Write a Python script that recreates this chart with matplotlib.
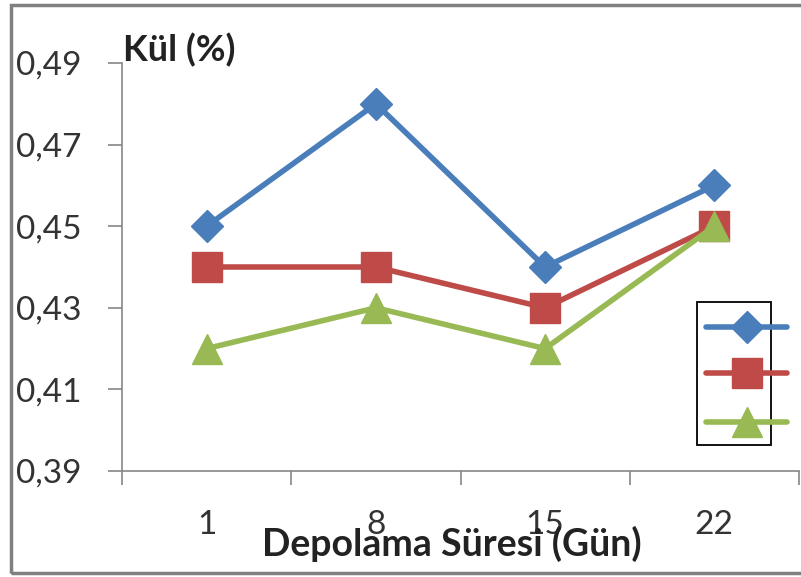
import numpy as np
import matplotlib
matplotlib.use("Agg")
import matplotlib.pyplot as plt
from matplotlib.lines import Line2D
from matplotlib.patches import Rectangle
from matplotlib.ticker import FixedLocator, FuncFormatter

# data
days = ["1", "8", "15", "22"]
blue_vals = [0.45, 0.48, 0.44, 0.46]
red_vals = [0.44, 0.44, 0.43, 0.45]
green_vals = [0.42, 0.43, 0.42, 0.45]
y_ticks = [0.39, 0.41, 0.43, 0.45, 0.47, 0.49]

blue = "#4A7EBB"
red = "#BE4B48"
green = "#98B954"
axis_gray = "#868686"
text_col = "#333333"

plt.rcParams["font.family"] = ["Lato", "DejaVu Sans"]

fig = plt.figure(figsize=(8.01, 5.77), dpi=100)
ax = fig.add_axes([122 / 801, 1 - 471 / 577, 677 / 801, 408 / 577])

x = np.arange(len(days))
ax.plot(x, blue_vals, color=blue, lw=4, marker="D", ms=16, mec=blue, zorder=3)
ax.plot(x, red_vals, color=red, lw=4, marker="s", ms=21, mec=red, zorder=3)
ax.plot(x, green_vals, color=green, lw=4, marker="^", ms=22, mec=green, zorder=4)

ax.set_xlim(-0.5, len(days) - 0.5)
ax.set_ylim(y_ticks[0], y_ticks[-1])

# y axis
ax.set_yticks(y_ticks)
ax.yaxis.set_major_formatter(FuncFormatter(lambda v, p: f"{v:.2f}".replace(".", ",")))
ax.tick_params(axis="y", direction="out", length=10, width=1.2, color=axis_gray,
               pad=19, labelsize=24, labelcolor=text_col)

# x axis: labels at category centres, ticks on the boundaries
ax.set_xticks(x)
ax.set_xticklabels(days)
ax.tick_params(axis="x", which="major", length=0, pad=28, labelsize=24, labelcolor=text_col)
ax.xaxis.set_minor_locator(FixedLocator(np.arange(len(days) + 1) - 0.5))
ax.tick_params(axis="x", which="minor", direction="out", length=10, width=1.2, color=axis_gray)

for side in ["top", "right"]:
    ax.spines[side].set_visible(False)
for side in ["left", "bottom"]:
    ax.spines[side].set_color(axis_gray)
    ax.spines[side].set_linewidth(1.2)

ax.set_xlabel("Depolama Süresi (Gün)", fontsize=27, fontweight="bold", color="#222222")
ax.xaxis.set_label_coords(330 / 677, -73 / 408)
ax.xaxis.label.set_va("center")

ax.set_ylabel("Kül (%)", fontsize=26, fontweight="bold", color="#222222",
              rotation=0, ha="left", va="center")
ax.yaxis.set_label_coords(0.002, (471 - 50) / 408)

# legend box (labels cut off in the original)
fig.add_artist(Rectangle((697 / 801, 1 - 445 / 577), 74 / 801, 143 / 577,
                         transform=fig.transFigure, fill=False, ec="black", lw=1.3))
for yy, col, mk, ms in [(327, blue, "D", 16), (373, red, "s", 21), (422, green, "^", 22)]:
    fig.add_artist(Line2D([706 / 801, 787 / 801], [1 - yy / 577] * 2, transform=fig.transFigure,
                          color=col, lw=4, solid_capstyle="round"))
    fig.add_artist(Line2D([747 / 801], [1 - yy / 577], transform=fig.transFigure,
                          color=col, marker=mk, ms=ms, mec=col, lw=0))

# outer chart border (right side falls outside the image)
fig.add_artist(Rectangle((11 / 801, 4 / 577), 1.0, 1 - 9 / 577, transform=fig.transFigure,
                         fill=False, ec="#808080", lw=2.5, clip_on=False))

fig.savefig("out.png", dpi=100)
